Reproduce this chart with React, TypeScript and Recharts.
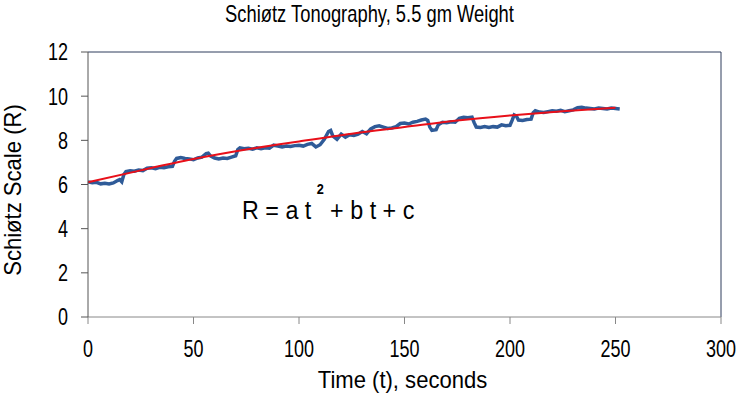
import { LineChart, Line, XAxis, YAxis, ReferenceLine } from "recharts";

// measured tonography trace (time in s, scale reading R)
const traceTimes = [
  0, 2, 4, 6, 8, 10, 12, 14, 15, 16, 17, 18, 20, 22, 24, 26, 28, 30, 32, 34, 36, 38, 40, 41, 42, 44, 46, 48,
  50, 52, 54, 56, 57, 58, 60, 62, 64, 66, 68, 70, 71, 72, 74, 76, 78, 80, 82, 84, 86, 88, 90, 92, 94, 96, 98,
  100, 102, 104, 106, 108, 110, 112, 114, 115, 116, 118, 120, 122, 124, 126, 128, 130, 132, 134, 136, 138,
  140, 142, 144, 146, 148, 150, 152, 154, 156, 158, 160, 161, 162, 163, 165, 166, 168, 170, 172, 174, 176,
  178, 180, 182, 183, 184, 186, 188, 190, 192, 194, 196, 198, 200, 201, 202, 203, 204, 206, 208, 210, 211,
  212, 214, 216, 218, 220, 222, 224, 226, 228, 230, 232, 234, 236, 238, 240, 242, 244, 246, 248, 250, 252,
];
const traceValues = [
  6.12, 6.08, 6.1, 6.03, 6.06, 6.02, 6.07, 6.18, 6.22, 6.12, 6.45, 6.58, 6.62, 6.6, 6.66, 6.63, 6.74, 6.76,
  6.72, 6.78, 6.76, 6.8, 6.82, 7.05, 7.18, 7.22, 7.18, 7.16, 7.12, 7.2, 7.24, 7.4, 7.42, 7.3, 7.2, 7.16,
  7.2, 7.18, 7.24, 7.3, 7.58, 7.66, 7.62, 7.64, 7.6, 7.66, 7.62, 7.66, 7.64, 7.78, 7.74, 7.7, 7.74, 7.72,
  7.76, 7.78, 7.74, 7.82, 7.86, 7.7, 7.8, 8.05, 8.4, 8.45, 8.2, 8.05, 8.28, 8.14, 8.25, 8.22, 8.28, 8.4,
  8.3, 8.52, 8.62, 8.66, 8.6, 8.54, 8.56, 8.62, 8.76, 8.78, 8.74, 8.82, 8.86, 8.92, 8.96, 8.9, 8.6, 8.45,
  8.48, 8.7, 8.82, 8.8, 8.84, 8.82, 9.0, 9.04, 9.02, 9.05, 8.8, 8.6, 8.58, 8.62, 8.58, 8.62, 8.6, 8.7,
  8.66, 8.68, 8.9, 9.15, 9.1, 8.92, 8.9, 8.94, 8.96, 9.25, 9.34, 9.28, 9.26, 9.3, 9.34, 9.32, 9.36, 9.3,
  9.34, 9.38, 9.48, 9.5, 9.46, 9.44, 9.42, 9.46, 9.44, 9.42, 9.46, 9.44, 9.42,
];

// fitted curve
const fitTimes = [0, 25, 50, 75, 100, 125, 150, 175, 200, 225, 250];
const fitValues = [6.1, 6.64, 7.15, 7.58, 7.95, 8.3, 8.6, 8.9, 9.13, 9.32, 9.47];

const xTicks = [0, 50, 100, 150, 200, 250, 300];
const yTicks = [0, 2, 4, 6, 8, 10, 12];

const trace = traceTimes.map((t, i) => ({ t, r: traceValues[i] }));
const fit = fitTimes.map((t, i) => ({ t, r: fitValues[i] }));

const font = '"Liberation Sans", Arial, sans-serif';

// the original's lettering is drawn a bit taller than it is wide
function XTick({ x, y, payload }: any) {
  return (
    <text transform={`translate(${x},${y + 2}) scale(1,1.3)`} textAnchor="middle" dy="0.71em" fontSize={18} fill="#000" fontFamily={font}>
      {payload.value}
    </text>
  );
}

function YTick({ x, y, payload }: any) {
  return (
    <text transform={`translate(${x},${y}) scale(1,1.3)`} textAnchor="end" dy="0.36em" fontSize={18} fill="#000" fontFamily={font}>
      {payload.value}
    </text>
  );
}

export default function App() {
  return (
    <div style={{ position: "relative", width: 739, height: 400, fontFamily: font, background: "#fff" }}>
      <style>{"body{margin:0}"}</style>
      <div
        style={{
          position: "absolute",
          top: 1,
          left: 0,
          width: 739,
          textAlign: "center",
          fontSize: 18,
          transform: "scale(1.02,1.3)",
          transformOrigin: "top",
        }}
      >
        Schiøtz Tonography, 5.5 gm Weight
      </div>
      <div
        style={{
          position: "absolute",
          left: 13,
          top: 190,
          transform: "translate(-50%, -50%) rotate(-90deg) scale(1.05,1.15)",
          whiteSpace: "nowrap",
          fontSize: 21,
        }}
      >
        Schiøtz Scale (R)
      </div>
      <div
        style={{
          position: "absolute",
          top: 366,
          left: 88,
          width: 629,
          textAlign: "center",
          fontSize: 21,
          transform: "scale(1.05,1.15)",
          transformOrigin: "top",
        }}
      >
        Time (t), seconds
      </div>
      <div
        style={{
          position: "absolute",
          top: 197,
          left: 242,
          fontSize: 22,
          lineHeight: "24px",
          whiteSpace: "nowrap",
          transform: "scale(1.06,1.15)",
          transformOrigin: "top left",
        }}
      >
        R = a t
        <span style={{ fontSize: 12, fontWeight: "bold", position: "relative", top: -22, margin: "0 6px 0 5px" }}>2</span>+ b t + c
      </div>
      <LineChart width={739} height={400} margin={{ top: 52, right: 18, bottom: 53, left: 0 }}>
        <XAxis
          type="number"
          dataKey="t"
          domain={[0, 300]}
          ticks={xTicks}
          height={30}
          tickSize={7}
          tickMargin={14}
          stroke="#888"
          tick={<XTick />}
          allowDuplicatedCategory={false}
        />
        <YAxis
          type="number"
          dataKey="r"
          domain={[0, 12]}
          ticks={yTicks}
          width={88}
          tickSize={7}
          tickMargin={13}
          stroke="#555"
          tick={<YTick />}
        />
        <ReferenceLine y={12} stroke="#2e3d5c" strokeWidth={1} />
        <ReferenceLine x={300} stroke="#2e3d5c" strokeWidth={1} />
        <Line
          data={trace}
          dataKey="r"
          type="linear"
          stroke="#2f5b98"
          strokeWidth={3.5}
          dot={false}
          isAnimationActive={false}
        />
        <Line
          data={fit}
          dataKey="r"
          type="monotone"
          stroke="#e8101a"
          strokeWidth={2}
          dot={false}
          isAnimationActive={false}
        />
      </LineChart>
    </div>
  );
}
